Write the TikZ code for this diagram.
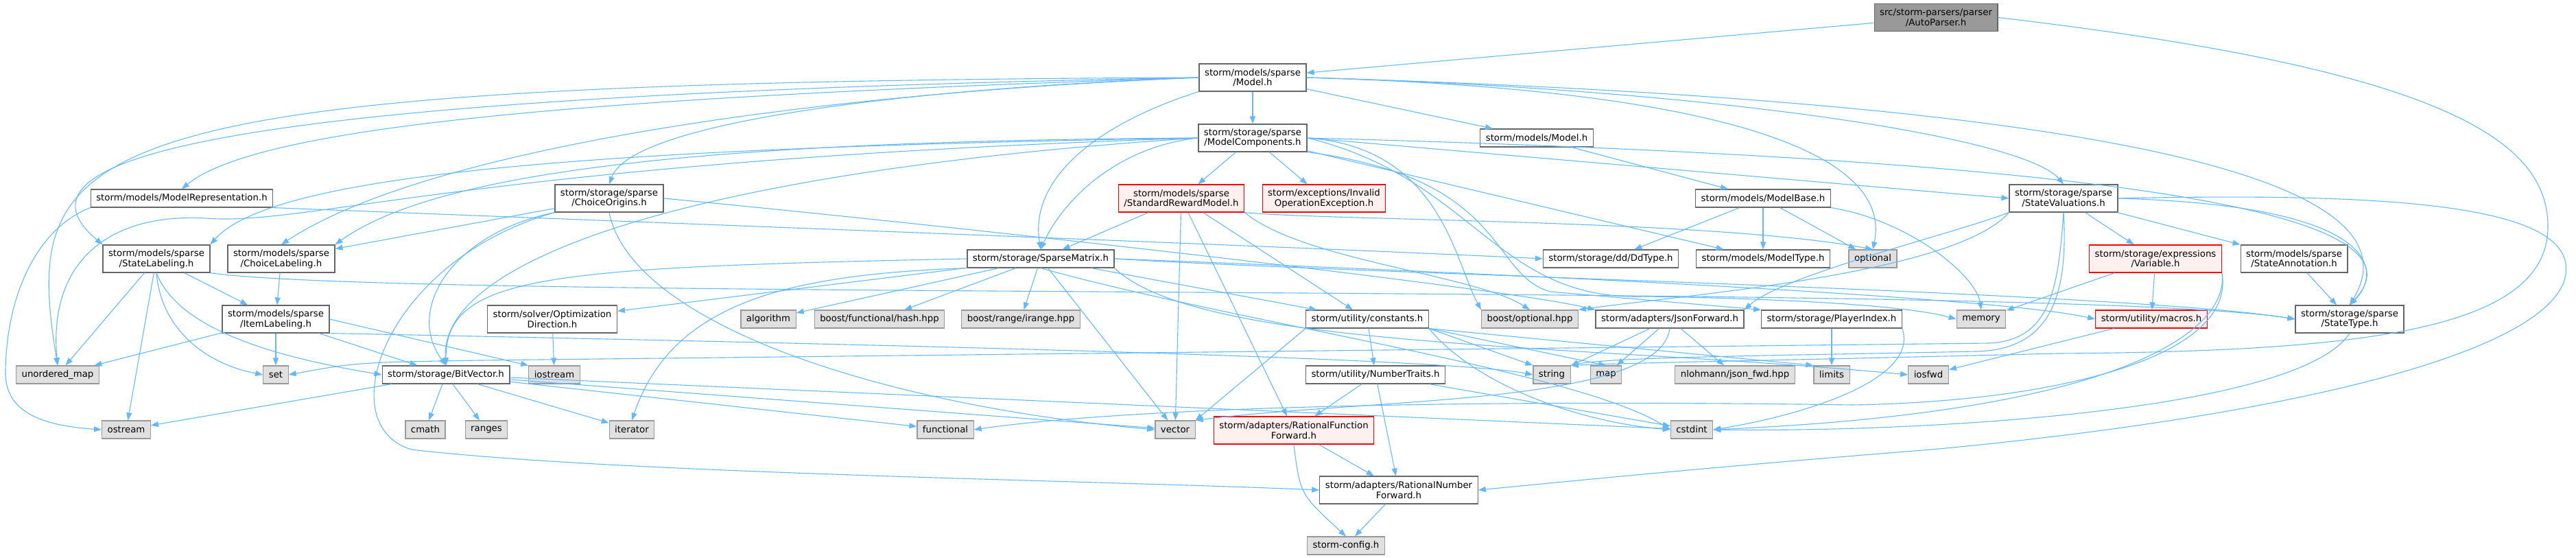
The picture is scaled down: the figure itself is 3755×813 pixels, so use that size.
\documentclass[tikz,border=0pt]{standalone}
\usepackage{fontspec}
\setmainfont{DejaVu Sans}
\usetikzlibrary{arrows.meta}
\definecolor{Link}{HTML}{63B8FF}
\definecolor{Frame}{HTML}{666666}
\definecolor{SysFill}{HTML}{E0E0E0}
\definecolor{SysFrame}{HTML}{999999}
\definecolor{BadFill}{HTML}{FFF0F0}
\definecolor{BadFrame}{HTML}{FF0000}
\definecolor{RootFill}{HTML}{999999}

\begin{document}
\begin{tikzpicture}[x=1pt,y=-1pt,font=\fontsize{13.3}{14.7}\selectfont,
  hdr/.style={draw=Frame,fill=white,line width=1.2pt,inner xsep=8pt,inner ysep=0pt,minimum height=26pt,align=center},
  sys/.style={hdr,draw=SysFrame,fill=SysFill},
  bad/.style={hdr,draw=BadFrame,fill=BadFill},
  root/.style={hdr,fill=RootFill},
  tall/.style={minimum height=40pt},
  dep/.style={draw=Link,line width=1.1pt,-{Triangle[length=11pt,width=8pt]}}]
\useasboundingbox (0,0) rectangle (3755,813);

% headers, rank by rank
\node[root,tall] (ap) at (2822,25.5) {src/storm-parsers/parser\\/AutoParser.h};
\node[hdr,tall] (sM) at (1826,113) {storm/models/sparse\\/Model.h};
\node[hdr,tall] (mc) at (1826,201) {storm/storage/sparse\\/ModelComponents.h};
\node[hdr] (mM) at (2240,201) {storm/models/Model.h};
\node[hdr] (mrep) at (265,289) {storm/models/ModelRepresentation.h};
\node[hdr,tall] (corig) at (888,289) {storm/storage/sparse\\/ChoiceOrigins.h};
\node[bad,tall] (srm) at (1722,289) {storm/models/sparse\\/StandardRewardModel.h};
\node[bad,tall] (inv) at (1930,289) {storm/exceptions/Invalid\\OperationException.h};
\node[hdr] (mBase) at (2570,289) {storm/models/ModelBase.h};
\node[hdr,tall] (sv) at (3008,289) {storm/storage/sparse\\/StateValuations.h};
\node[hdr,tall] (slab) at (228,377) {storm/models/sparse\\/StateLabeling.h};
\node[hdr,tall] (clab) at (410,377) {storm/models/sparse\\/ChoiceLabeling.h};
\node[hdr] (sm) at (1517,377) {storm/storage/SparseMatrix.h};
\node[hdr] (dd) at (2348,377) {storm/storage/dd/DdType.h};
\node[hdr] (mt) at (2570,377) {storm/models/ModelType.h};
\node[sys] (opt) at (2730,377) {optional};
\node[bad,tall] (var) at (3142,377) {storm/storage/expressions\\/Variable.h};
\node[hdr,tall] (sa) at (3344,377) {storm/models/sparse\\/StateAnnotation.h};
\node[hdr,tall] (ilab) at (402,465) {storm/models/sparse\\/ItemLabeling.h};
\node[hdr,tall] (od) at (805,465) {storm/solver/Optimization\\Direction.h};
\node[sys] (alg) at (1120,465) {algorithm};
\node[sys] (hash) at (1282,465) {boost/functional/hash.hpp};
\node[sys] (irange) at (1488,465) {boost/range/irange.hpp};
\node[hdr] (cnst) at (1993,465) {storm/utility/constants.h};
\node[sys] (bopt) at (2230,465) {boost/optional.hpp};
\node[hdr] (json) at (2434,465) {storm/adapters/JsonForward.h};
\node[hdr] (pi) at (2670,465) {storm/storage/PlayerIndex.h};
\node[sys] (mem) at (2888,465) {memory};
\node[bad] (macros) at (3136,465) {storm/utility/macros.h};
\node[hdr,tall] (st) at (3425,465) {storm/storage/sparse\\/StateType.h};
\node[sys] (umap) at (84,546) {unordered\_map};
\node[sys] (set) at (402,546) {set};
\node[hdr] (bv) at (650,546) {storm/storage/BitVector.h};
\node[sys] (ios) at (808,546) {iostream};
\node[hdr] (nt) at (2005,546) {storm/utility/NumberTraits.h};
\node[sys] (string) at (2262,546) {string};
\node[sys] (map) at (2341,546) {map};
\node[sys] (jfwd) at (2529,546) {nlohmann/json\_fwd.hpp};
\node[sys] (limits) at (2670,546) {limits};
\node[sys] (iosfwd) at (2811,546) {iosfwd};
\node[sys] (ostream) at (184,626) {ostream};
\node[sys] (cmath) at (620,626) {cmath};
\node[sys] (ranges) at (709,626) {ranges};
\node[sys] (iter) at (921,626) {iterator};
\node[sys] (func) at (1378,626) {functional};
\node[sys] (vec) at (1713,626) {vector};
\node[bad,tall] (rff) at (1886,627) {storm/adapters/RationalFunction\\Forward.h};
\node[sys] (cint) at (2466,626) {cstdint};
\node[hdr,tall] (rnf) at (2039,714) {storm/adapters/RationalNumber\\Forward.h};
\node[sys] (cfg) at (1962,795) {storm-config.h};

% short includes
\foreach \a/\b in {ap/sM, sM/mc, sM/mM, mM/mBase, mc/srm, mc/inv, mc/mt, corig/clab,
  srm/sm, srm/cnst, srm/vec, srm/rff, mBase/dd, mBase/mt, mBase/opt, sv/var, sv/sa,
  sa/st, var/macros, var/mem, macros/iosfwd, slab/ilab, slab/umap, slab/ostream,
  clab/ilab, ilab/umap, ilab/set, ilab/bv, od/ios, bv/ostream, bv/cmath, bv/ranges,
  bv/iter, bv/func, bv/vec, bv/cint, sm/alg, sm/hash, sm/irange, sm/od, sm/cnst,
  sm/vec, cnst/nt, nt/rff, nt/rnf, nt/cint, rff/rnf, rnf/cfg, json/string, json/map,
  json/jfwd, pi/limits}
  \draw[dep] (\a) -- (\b);

% long includes
\draw[dep] (ap.east) .. controls (3550,100) and (3714,200) .. (3714,330) .. controls (3714,480) and (3450,512) .. (3000,515) .. controls (2600,525) and (2400,528) .. (string.north east);
\draw[dep] (sM.west) .. controls (100,120) and (30,200) .. (umap.north);
\draw[dep] (sM.west) .. controls (300,140) and (0,230) .. (slab.north west);
\draw[dep] (sM.west) .. controls (900,140) and (380,180) .. (mrep.north);
\draw[dep] (sM.west) .. controls (1100,140) and (600,230) .. (clab.north);
\draw[dep] (sM.west) .. controls (1300,130) and (920,180) .. (corig.north);
\draw[dep] (sM.south west) .. controls (1600,180) and (1500,260) .. (sm.north);
\draw[dep] (sM.east) .. controls (2500,130) and (2950,200) .. (sv.north);
\draw[dep] (sM.east) .. controls (2500,130) and (2760,220) .. (opt.north);
\draw[dep] (sM.east) .. controls (2800,140) and (3560,220) .. (st.north);

\draw[dep] (mc.west) .. controls (900,215) and (400,250) .. (slab.north east);
\draw[dep] (mc.west) .. controls (1100,205) and (650,240) .. (clab.north east);
\draw[dep] (mc.west) .. controls (700,235) and (450,330) .. (300,318) .. controls (160,310) and (70,380) .. (umap.north);
\draw[dep] (mc.west) .. controls (1000,250) and (640,380) .. (bv.north);
\draw[dep] (mc.west) .. controls (1620,215) and (1545,300) .. (sm.north);
\draw[dep] (mc.east) -- (sv.west);
\draw[dep] (mc.east) .. controls (2100,215) and (2120,380) .. (bopt.north west);
\draw[dep] (mc.south east) .. controls (2200,260) and (2170,400) .. (2260,425) -- (pi.north west);
\draw[dep] (mc.east) .. controls (2150,260) and (2180,440) .. (2400,432) .. controls (2600,435) and (2780,445) .. (mem.west);
\draw[dep] (mc.east) .. controls (3000,230) and (3560,300) .. (st.north);

\draw[dep] (mrep.south west) .. controls (60,330) and (10,420) .. (8,540) .. controls (6,600) and (60,620) .. (ostream.west);
\draw[dep] (mrep.south east) .. controls (1100,330) and (1900,360) .. (dd.west);

\draw[dep] (srm.south east) .. controls (1950,322) and (2500,320) .. (opt.north);
\draw[dep] (srm.south east) .. controls (1900,380) and (2150,400) .. (bopt.north);

\draw[dep] (corig.south west) .. controls (660,340) and (590,450) .. (bv.north);
\draw[dep] (corig.south west) .. controls (560,380) and (480,620) .. (600,655) .. controls (900,690) and (1600,700) .. (rnf.west);
\draw[dep] (corig.south) .. controls (920,470) and (1280,590) .. (vec.west);
\draw[dep] (corig.east) .. controls (1400,330) and (2200,420) .. (json.north west);

\draw[dep] (mBase.south east) .. controls (2780,320) and (2880,400) .. (mem.north);

\draw[dep] (sv.east) .. controls (3480,300) and (3470,400) .. (st.north);
\draw[dep] (sv.east) .. controls (3500,280) and (3755,300) .. (3740,400) .. controls (3720,520) and (3300,610) .. (2815,655) .. controls (2500,680) and (2300,700) .. (rnf.east);
\draw[dep] (sv.south) .. controls (3000,420) and (2990,495) .. (2900,500) -- (700,525) .. controls (520,528) .. (set.east);
\draw[dep] (sv.south) .. controls (3015,430) and (2990,510) .. (2880,512) .. controls (2600,518) and (2350,520) .. (string.north east);
\draw[dep] (sv.south west) .. controls (2850,340) and (2600,400) .. (json.north east);
\draw[dep] (sv.south west) .. controls (2850,400) and (2450,430) .. (bopt.north east);

\draw[dep] (slab.south) .. controls (235,480) and (300,530) .. (set.west);
\draw[dep] (slab.south) .. controls (260,480) and (400,520) .. (bv.west);
\draw[dep] (slab.south east) .. controls (600,440) and (3000,410) .. (st.west);

\draw[dep] (sm.west) .. controls (800,390) and (650,400) .. (bv.north);
\draw[dep] (sm.south west) .. controls (1150,400) and (980,440) .. (iter.north);
\draw[dep] (sm.south) .. controls (1800,470) and (2300,540) .. (cint.west);
\draw[dep] (sm.east) .. controls (2000,400) and (3100,425) .. (st.west);
\draw[dep] (sm.east) .. controls (2100,395) and (2900,430) .. (macros.west);
\draw[dep] (sm.south east) .. controls (1750,510) and (2300,500) .. (iosfwd.west);

\draw[dep] (ilab.east) -- (ios.north west);
\draw[dep] (ilab.south east) .. controls (1200,500) and (2100,520) .. (string.west);

\draw[dep] (cnst.south east) -- (string.north west);
\draw[dep] (cnst.south east) -- (map.north);
\draw[dep] (cnst.south east) -- (limits.north west);
\draw[dep] (cnst.south east) .. controls (2150,560) and (2300,615) .. (cint.west);
\draw[dep] (cnst.south west) -- (vec.north east);

\draw[dep] (rff.south) .. controls (1895,720) .. (cfg.north);
\draw[dep] (json.south) .. controls (2420,590) and (2000,580) .. (vec.north east);
\draw[dep] (pi.south east) .. controls (2800,560) and (2600,610) .. (cint.east);

\draw[dep] (var.south east) .. controls (3250,480) and (3100,600) .. (cint.east);
\draw[dep] (var.south east) .. controls (3260,520) and (3000,585) .. (2700,590) .. controls (2000,580) and (1600,600) .. (func.east);
\draw[dep] (st.south) .. controls (3350,600) and (2800,630) .. (cint.east);
\end{tikzpicture}
\end{document}
